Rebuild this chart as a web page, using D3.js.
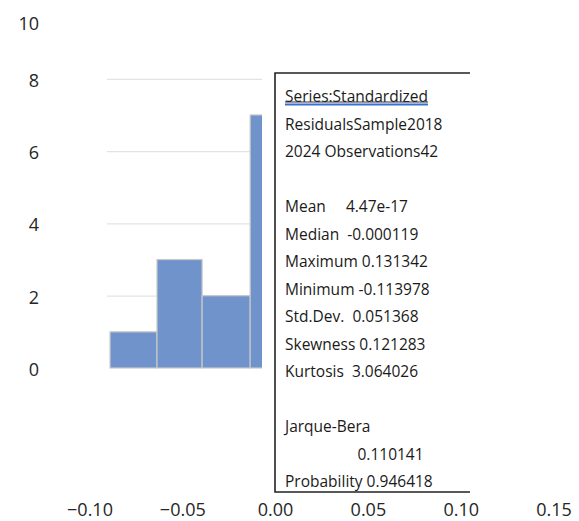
<!DOCTYPE html>
<html>
<head>
<meta charset="utf-8">
<script src="https://cdn.jsdelivr.net/npm/d3@7"></script>
<style>
  body { margin: 0; background: #fff; }
  text { font-family: "Open Sans", sans-serif; }
</style>
</head>
<body>
<div id="chart"></div>
<script>
// Histogram data
const binEdges = [-0.0892, -0.0639, -0.0396, -0.0137, 0.0113];
const counts = [1, 3, 2, 7];
const yTicks = [0, 2, 4, 6, 8, 10];
const xTicks = [-0.10, -0.05, 0.00, 0.05, 0.10, 0.15];
const headerLines = ["Series:Standardized", "ResidualsSample2018", "2024 Observations42", ""];
const statLines = [
  "Mean     4.47e-17",
  "Median  -0.000119",
  "Maximum 0.131342",
  "Minimum -0.113978",
  "Std.Dev.  0.051368",
  "Skewness 0.121283",
  "Kurtosis  3.064026",
  "",
  "Jarque-Bera",
  "                  0.110141",
  "Probability 0.946418"
];

const W = 579, H = 521;
const svg = d3.select("#chart").append("svg")
  .attr("width", W)
  .attr("height", H);

// scales
const x = d3.scaleLinear().domain([-0.10, 0.15]).range([90, 554]);
const y = d3.scaleLinear().domain([0, 10]).range([368, 6.5]);
const plotLeft = 107, plotRight = 262;

svg.append("clipPath").attr("id", "plot-clip")
  .append("rect")
  .attr("x", plotLeft).attr("y", 0)
  .attr("width", plotRight - plotLeft).attr("height", H);

// gridlines
svg.append("g").selectAll("line")
  .data(yTicks.filter(d => d > 0 && d < 10))
  .enter().append("line")
  .attr("x1", plotLeft).attr("x2", plotRight)
  .attr("y1", d => y(d) + 0.5).attr("y2", d => y(d) + 0.5)
  .attr("stroke", "#e3e3e3")
  .attr("stroke-width", 1.2);

// bars
const bins = counts.map((c, i) => ({ x0: binEdges[i], x1: binEdges[i + 1], n: c }));
svg.append("g").attr("clip-path", "url(#plot-clip)")
  .selectAll("rect")
  .data(bins)
  .enter().append("rect")
  .attr("x", d => x(d.x0))
  .attr("y", d => y(d.n))
  .attr("width", d => x(d.x1) - x(d.x0))
  .attr("height", d => y(0) - y(d.n))
  .attr("fill", "#7093cb")
  .attr("stroke", "#c8c8c8")
  .attr("stroke-width", 1.2);

// y labels
svg.append("g").selectAll("text")
  .data(yTicks)
  .enter().append("text")
  .attr("x", 39)
  .attr("y", d => Math.max(y(d) + 1, 23))
  .attr("text-anchor", "end")
  .attr("dominant-baseline", "central")
  .attr("font-size", 18)
  .attr("fill", "#262626")
  .text(d => d);

// x labels
svg.append("g").selectAll("text")
  .data(xTicks)
  .enter().append("text")
  .attr("x", d => x(d))
  .attr("y", 509)
  .attr("text-anchor", "middle")
  .attr("dominant-baseline", "central")
  .attr("font-size", 18)
  .attr("fill", "#262626")
  .text(d => d3.format(".2f")(d));

// statistics box
const box = svg.append("g");
box.append("rect")
  .attr("x", 275).attr("y", 73)
  .attr("width", 195).attr("height", 419)
  .attr("fill", "#fff");
box.append("path")
  .attr("d", "M470,73H275V492H470")
  .attr("fill", "none")
  .attr("stroke", "#222")
  .attr("stroke-width", 1.6);

const lines = headerLines.concat(statLines);
const txt = box.selectAll("text.stat")
  .data(lines)
  .enter().append("text")
  .attr("class", "stat")
  .attr("x", 285)
  .attr("y", (d, i) => 96 + 27.5 * i)
  .attr("dominant-baseline", "central")
  .attr("font-size", 15.5)
  .attr("fill", "#1a1a1a")
  .style("white-space", "pre")
  .text(d => d);

// underline on the title
const tw = txt.filter((d, i) => i === 0).node().getComputedTextLength();
box.append("line")
  .attr("x1", 285).attr("x2", 285 + tw)
  .attr("y1", 102).attr("y2", 102)
  .attr("stroke", "#333").attr("stroke-width", 1);
box.append("line")
  .attr("x1", 285).attr("x2", 285 + tw)
  .attr("y1", 104.5).attr("y2", 104.5)
  .attr("stroke", "#3b6fd6").attr("stroke-width", 2);
</script>
</body>
</html>
